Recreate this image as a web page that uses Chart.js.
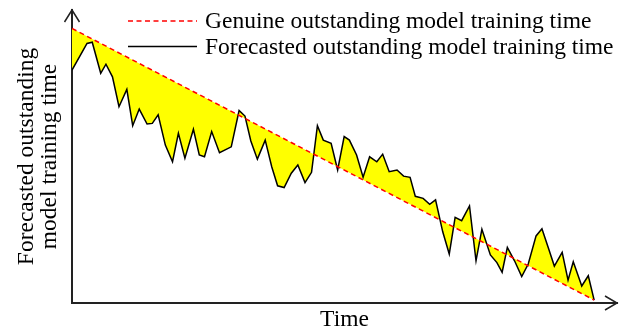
<!DOCTYPE html>
<html>
<head>
<meta charset="utf-8">
<script src="https://cdn.jsdelivr.net/npm/chart.js@4"></script>
<style>
  html, body { margin: 0; padding: 0; background: #fff; }
  canvas { display: block; }
</style>
</head>
<body>
<canvas id="c" width="622" height="333"></canvas>
<script>
// Time axis positions of the forecast samples
const forecastTimes = [
  0, 2.3, 3.1, 4.4, 5.2, 6.2, 7.2, 8.4, 9.3, 10.3,
  11.5, 12.3, 13.2, 14.3, 15.4, 16.3, 17.3, 18.6, 19.5, 20.3,
  21.4, 22.6, 24.4, 25.6, 26.5, 27.4, 28.4, 29.6, 30.6, 31.5,
  32.5, 33.6, 34.6, 35.7, 36.7, 37.6, 38.5, 39.7, 40.7, 41.7,
  42.5, 43.6, 44.6, 45.6, 46.7, 47.6, 48.6, 49.8, 50.8, 51.8,
  52.6, 53.8, 54.8, 55.7, 56.8, 57.8, 58.7, 59.7, 60.9, 61.9,
  62.8, 64.1, 65.1, 65.9, 66.7, 67.8, 68.9, 69.9, 71.1, 72.0,
  73.0, 73.9, 75.1, 76.0, 76.8, 78.1, 79.1, 80.0
];
// Forecasted outstanding model training time
const forecastValues = [
  79.5, 88.6, 89.0, 78.4, 81.5, 77.2, 67.0, 72.9, 60.5, 66.2,
  61.1, 61.3, 64.2, 53.9, 48.2, 57.9, 49.4, 59.3, 50.5, 49.9,
  58.5, 51.3, 53.3, 65.7, 63.8, 55.3, 49.1, 55.6, 46.5, 40.0,
  39.4, 44.3, 47.1, 41.1, 44.6, 60.5, 55.6, 54.5, 45.4, 56.8,
  55.6, 50.5, 42.9, 49.9, 48.2, 50.8, 44.8, 45.4, 43.3, 42.9,
  36.4, 35.7, 33.7, 35.2, 24.3, 16.7, 29.2, 28.1, 33.1, 14.4,
  25.2, 16.4, 13.8, 10.5, 19.0, 14.4, 9.0, 13.3, 22.9, 25.3,
  18.7, 12.6, 17.3, 7.8, 14.1, 5.8, 9.3, 1.0
];
// Genuine outstanding time: straight decline from start to finish
const genuineTimes = [0, 80];
const genuineValues = [93.7, 1.0];

const seriesLabels = [
  'Genuine outstanding model training time',
  'Forecasted outstanding model training time'
];
const xTitle = 'Time';
const yTitle = ['Forecasted outstanding', 'model training time'];

const SERIF = '"Liberation Serif", "Times New Roman", serif';
const FONT_SIZE = 23.5;
const AXIS_COLOR = '#222';

const toPoints = (xs, ys) => xs.map((x, i) => ({ x: x, y: ys[i] }));

// Open arrow heads at the ends of both axes
const axisArrows = {
  id: 'axisArrows',
  afterDraw(chart) {
    const { ctx, chartArea: a } = chart;
    ctx.save();
    ctx.strokeStyle = AXIS_COLOR;
    ctx.lineWidth = 1.5;
    ctx.beginPath();
    // y axis arrow
    ctx.moveTo(a.left - 7.5, a.top + 12);
    ctx.lineTo(a.left, a.top);
    ctx.lineTo(a.left + 7.5, a.top + 12);
    // x axis arrow
    ctx.moveTo(a.right - 12, a.bottom - 7);
    ctx.lineTo(a.right, a.bottom);
    ctx.lineTo(a.right - 12, a.bottom + 7);
    ctx.stroke();
    ctx.restore();
  }
};

// Line-sample legend in the upper right
const lineLegend = {
  id: 'lineLegend',
  afterDraw(chart) {
    const { ctx } = chart;
    const x0 = 128, x1 = 197, textX = 205;
    const rows = [21, 46.5];
    ctx.save();
    ctx.font = FONT_SIZE + 'px ' + SERIF;
    ctx.textBaseline = 'middle';
    ctx.textAlign = 'left';
    chart.data.datasets.forEach((ds, i) => {
      const y = rows[i];
      ctx.strokeStyle = ds.borderColor;
      ctx.lineWidth = ds.borderWidth;
      ctx.setLineDash(ds.borderDash || []);
      ctx.beginPath();
      ctx.moveTo(x0, y);
      ctx.lineTo(x1, y);
      ctx.stroke();
      ctx.setLineDash([]);
      ctx.fillStyle = '#000';
      ctx.fillText(ds.label, textX, y + 1);
    });
    ctx.restore();
  }
};

new Chart(document.getElementById('c'), {
  type: 'line',
  data: {
    datasets: [
      {
        label: seriesLabels[0],
        data: toPoints(genuineTimes, genuineValues),
        borderColor: '#ff0000',
        borderWidth: 1.5,
        borderDash: [5, 3.5],
        pointRadius: 0,
        tension: 0,
        fill: false
      },
      {
        label: seriesLabels[1],
        data: toPoints(forecastTimes, forecastValues),
        borderColor: '#000000',
        borderWidth: 1.5,
        backgroundColor: '#ffff00',
        pointRadius: 0,
        tension: 0,
        fill: 0
      }
    ]
  },
  options: {
    responsive: false,
    animation: false,
    layout: { padding: { left: 0, top: 10, right: 5, bottom: 0 } },
    plugins: {
      legend: { display: false },
      tooltip: { enabled: false }
    },
    scales: {
      x: {
        type: 'linear',
        min: 0,
        max: 83.5,
        grid: { display: false, drawTicks: false },
        border: { display: true, color: AXIS_COLOR, width: 2 },
        ticks: { display: false },
        title: {
          display: true,
          text: xTitle,
          color: '#000',
          font: { family: SERIF, size: FONT_SIZE, lineHeight: 1.0 },
          padding: { top: 5.5, bottom: 1 }
        }
      },
      y: {
        type: 'linear',
        min: 0,
        max: 100,
        grid: { display: false, drawTicks: false },
        border: { display: true, color: AXIS_COLOR, width: 2 },
        ticks: { display: false },
        title: {
          display: true,
          text: yTitle,
          color: '#000',
          font: { family: SERIF, size: FONT_SIZE, lineHeight: 1.0 },
          padding: { top: 15, bottom: 10 }
        }
      }
    }
  },
  plugins: [axisArrows, lineLegend]
});
</script>
</body>
</html>
